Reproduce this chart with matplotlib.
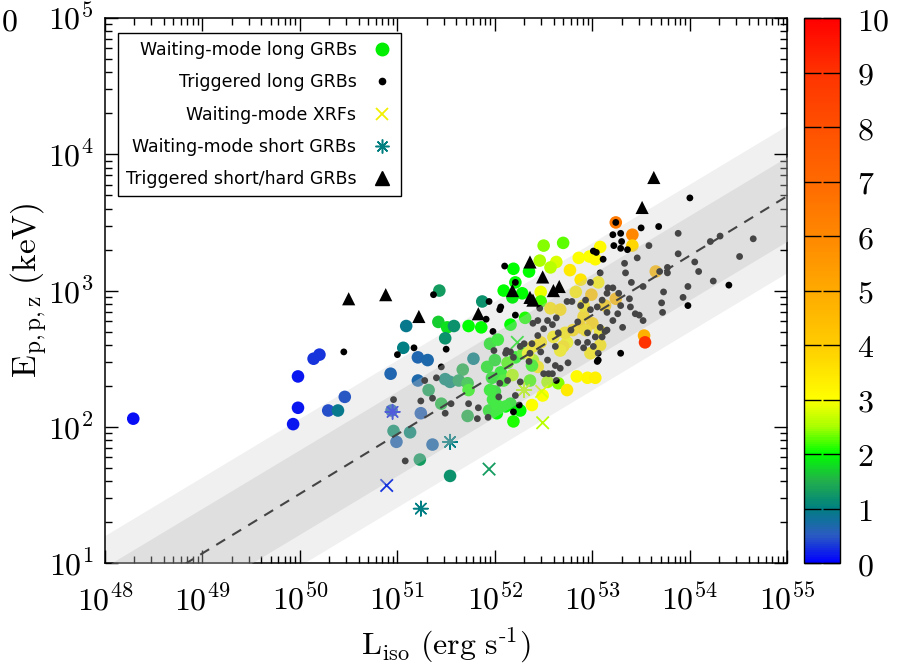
import numpy as np
import matplotlib
matplotlib.use('Agg')
import matplotlib.pyplot as plt
from matplotlib.colors import LinearSegmentedColormap, Normalize
from matplotlib.ticker import LogLocator, FuncFormatter, NullFormatter, FixedLocator
from matplotlib.lines import Line2D

plt.rcParams['mathtext.fontset'] = 'cm'

# waiting-mode long GRBs: log10 L_iso (erg/s), log10 Ep (keV), redshift
wl_logL = [48.29, 49.98, 50.14, 50.20, 49.98, 49.93, 50.29, 50.39, 50.46, 50.93,
           50.94, 50.96, 50.99, 51.43, 51.09, 51.42, 51.51, 51.58, 51.73, 51.86,
           51.87, 51.06, 51.49, 51.21, 51.31, 51.78, 51.67, 51.21, 51.49, 51.54,
           51.63, 51.72, 51.73, 51.32, 51.45, 51.24, 51.72, 51.94, 52.02, 52.02,
           52.00, 51.13, 51.36, 51.23, 51.54, 52.26, 52.19, 52.16, 52.11, 52.38,
           52.49, 52.54, 52.65, 52.84, 52.95, 53.03, 52.74, 52.50, 52.70, 52.19,
           52.35, 52.46, 52.63, 52.57, 52.09, 52.21, 52.18, 52.28, 52.47, 52.47,
           52.57, 52.86, 52.97, 52.77, 53.08, 53.03, 52.88, 53.06, 53.24, 52.99,
           53.24, 52.91, 52.88, 52.74, 52.16, 52.31, 52.39, 53.41, 53.41, 53.65,
           53.53, 53.54, 51.92, 52.00, 52.06, 51.97, 51.95, 52.09, 51.98, 52.21,
           52.29, 52.18, 52.13, 51.95, 52.03, 52.34, 52.39, 52.47, 52.44, 52.38,
           52.36, 52.70, 52.60, 52.72, 52.80, 52.91, 53.00, 53.08, 52.98, 52.67,
           52.83, 53.13, 52.93, 52.67, 53.08]
wl_logE = [2.06, 2.37, 2.50, 2.53, 2.14, 2.02, 2.12, 2.12, 2.22, 2.39,
           2.12, 1.97, 1.89, 3.00, 2.74, 2.77, 2.73, 2.74, 2.74, 2.73,
           2.92, 2.58, 2.65, 2.51, 2.49, 2.50, 2.42, 2.34, 2.35, 2.33,
           2.34, 2.32, 2.27, 2.27, 2.17, 2.10, 2.08, 2.12, 2.10, 2.16,
           2.26, 1.96, 1.87, 1.76, 1.64, 2.12, 2.04, 2.17, 2.15, 2.16,
           2.23, 2.33, 2.32, 2.37, 2.36, 2.36, 2.27, 3.33, 3.35, 3.16,
           3.14, 3.22, 3.21, 3.17, 3.00, 3.06, 2.95, 2.98, 2.99, 2.92,
           2.87, 3.24, 3.25, 3.15, 3.32, 3.23, 3.08, 3.06, 3.50, 2.97,
           2.94, 2.81, 2.73, 2.62, 2.75, 2.80, 2.49, 3.41, 3.33, 3.14,
           2.67, 2.62, 2.44, 2.49, 2.40, 2.36, 2.27, 2.34, 2.20, 2.51,
           2.54, 2.38, 2.47, 2.61, 2.64, 2.54, 2.59, 2.62, 2.44, 2.45,
           2.34, 2.59, 2.66, 2.69, 2.71, 2.89, 2.76, 2.70, 2.54, 2.86,
           2.99, 2.89, 2.71, 2.56, 2.60]
wl_z = [0.1, 0.15, 0.3, 0.3, 0.12, 0.15, 0.45, 0.9, 0.5, 0.65,
        0.7, 1.2, 0.65, 1.3, 0.9, 1.7, 1.8, 1.2, 2.0, 2.0,
        1.2, 1.0, 1.2, 0.65, 0.7, 1.0, 1.5, 0.7, 1.1, 1.1,
        1.4, 1.7, 2.1, 1.4, 1.6, 0.6, 1.5, 1.9, 2.0, 2.0,
        1.9, 1.1, 0.7, 1.3, 1.2, 2.0, 2.1, 1.9, 2.0, 3.0,
        3.0, 2.5, 2.4, 3.1, 3.2, 3.3, 3.4, 2.4, 2.3, 2.0,
        2.0, 2.5, 2.8, 2.6, 2.0, 2.0, 1.9, 2.0, 2.9, 2.2,
        3.5, 3.0, 3.0, 3.4, 3.1, 3.1, 3.5, 3.2, 6.5, 4.2,
        4.5, 3.6, 3.8, 3.0, 2.0, 2.1, 2.5, 6.0, 3.8, 4.5,
        4.8, 9.0, 1.9, 1.8, 2.0, 1.9, 2.0, 2.1, 2.0, 2.0,
        2.2, 2.5, 2.2, 1.9, 2.0, 3.0, 3.2, 3.4, 3.3, 2.1,
        2.2, 3.4, 3.2, 3.3, 3.6, 3.3, 3.8, 3.2, 3.3, 3.6,
        3.3, 4.0, 3.5, 3.1, 3.4]

# triggered long GRBs
tl_logL = [50.45, 51.00, 50.96, 51.37, 51.94, 51.91, 52.05, 52.10, 51.17, 51.50,
           51.98, 51.45, 51.28, 51.40, 51.36, 51.24, 51.49, 51.55, 51.73, 51.83,
           51.82, 51.93, 51.08, 52.12, 52.05, 52.25, 52.19, 52.55, 52.50, 52.63,
           52.21, 52.06, 52.30, 52.38, 52.44, 52.44, 52.54, 52.50, 52.59, 52.63,
           52.35, 52.47, 52.54, 52.62, 52.59, 52.67, 52.75, 52.21, 52.26, 52.04,
           52.13, 52.16, 51.99, 52.46, 52.74, 52.88, 52.93, 52.98, 53.05, 53.10,
           53.21, 53.27, 53.15, 53.21, 52.85, 52.65, 52.78, 52.95, 53.03, 53.08,
           53.15, 52.85, 52.91, 53.01, 52.62, 52.39, 52.36, 52.26, 52.19, 52.11,
           53.06, 53.29, 53.01, 53.04, 53.11, 52.98, 53.08, 53.16, 53.29, 53.21,
           53.22, 53.36, 52.79, 53.24, 52.21, 53.30, 53.50, 53.68, 53.29, 53.58,
           53.88, 53.46, 53.88, 53.33, 53.34, 53.69, 53.77, 53.77, 54.05, 54.09,
           54.24, 54.40, 54.51, 54.65, 54.31, 54.21, 53.40, 53.52, 53.73, 53.98,
           53.93, 53.98, 53.71, 53.72, 53.15, 54.00, 53.44, 53.48, 53.52, 53.39,
           53.38, 53.29, 53.31, 53.26, 53.06, 53.05, 53.13, 53.10, 52.95]
tl_logE = [2.55, 2.53, 2.20, 2.97, 2.92, 2.79, 2.86, 3.18, 2.58, 2.57,
           2.70, 2.44, 2.34, 2.36, 2.21, 2.19, 2.10, 2.17, 2.17, 2.14,
           2.06, 2.07, 1.75, 2.56, 2.32, 2.16, 2.11, 2.39, 2.39, 2.34,
           2.82, 2.88, 2.61, 2.61, 2.67, 2.78, 2.78, 2.72, 2.75, 2.80,
           2.48, 2.55, 2.49, 2.45, 2.39, 2.43, 2.47, 2.23, 2.33, 2.22,
           2.34, 2.55, 2.56, 2.87, 2.92, 2.89, 2.93, 2.86, 2.88, 2.93,
           3.02, 2.98, 2.84, 2.78, 2.77, 2.69, 2.71, 2.69, 2.66, 2.73,
           2.71, 2.62, 2.58, 2.59, 2.59, 2.76, 2.54, 2.59, 2.51, 2.54,
           2.49, 2.54, 3.29, 3.28, 3.23, 3.06, 3.13, 3.02, 3.42, 3.41,
           3.33, 3.30, 2.92, 3.50, 3.06, 3.36, 3.46, 3.47, 3.31, 3.33,
           3.42, 3.24, 3.27, 3.20, 3.13, 3.14, 3.17, 3.13, 3.21, 3.14,
           3.07, 3.04, 3.25, 3.38, 3.40, 3.36, 3.06, 3.03, 2.99, 3.03,
           2.95, 2.89, 2.91, 2.84, 2.98, 3.68, 2.83, 2.82, 2.78, 2.88,
           2.94, 2.89, 2.73, 2.83, 2.54, 2.48, 2.70, 2.66, 2.62]

# waiting-mode XRFs
xrf_logL = [50.89, 51.94, 52.49, 52.48, 52.23]
xrf_logE = [1.57, 1.69, 2.03, 2.26, 2.62]
xrf_z = [0.3, 1.3, 2.6, 2.8, 1.9]

# waiting-mode short GRBs
ws_logL = [50.95, 51.54, 52.30, 51.24]
ws_logE = [2.11, 1.89, 2.27, 1.40]
ws_z = [0.2, 1.0, 2.6, 1.0]

# triggered short/hard GRBs
ts_logL = [50.50, 50.88, 51.22, 51.83, 52.36, 52.49, 52.18, 52.36, 52.39, 52.60,
           52.66, 53.63, 53.51]
ts_logE = [2.94, 2.97, 2.81, 2.83, 3.21, 3.10, 3.00, 2.95, 2.93, 3.00,
           3.03, 3.83, 3.61]

# best fit relation and scatter bands
fit_norm, fit_slope = 2.383, 0.437
band_slope = 0.43
sig1, sig2 = 0.31, 0.54

cmap = LinearSegmentedColormap.from_list('zmap', [
    (0.0, '#0000ff'), (0.05, '#2a5cc0'), (0.1, '#008080'), (0.15, '#22b04a'),
    (0.2, '#00ff00'), (0.25, '#aaff00'), (0.3, '#ffff00'), (0.4, '#ffcc00'),
    (0.5, '#ffaa00'), (0.6, '#ff8800'), (0.7, '#ff6a00'), (0.8, '#ff5000'),
    (0.9, '#ff3300'), (1.0, '#ff0000')])
norm = Normalize(0, 10)

fig = plt.figure(figsize=(9.05, 6.68), dpi=100)
ax = fig.add_axes([0.116, 0.157, 0.754, 0.816])
cax = fig.add_axes([0.888, 0.157, 0.040, 0.816])

L = np.linspace(47.5, 55.5, 200)
band_c = fit_norm + band_slope * (L - 52)
ax.fill_between(10**L, 10**(band_c - sig2), 10**(band_c + sig2),
                color='#f0f0f0', lw=0, zorder=0)

p = lambda a: 10**np.array(a)
ax.scatter(p(wl_logL), p(wl_logE), c=wl_z, cmap=cmap, norm=norm, s=82,
           edgecolors='none', zorder=2)
ax.scatter(p(xrf_logL), p(xrf_logE), c=xrf_z, cmap=cmap, norm=norm, s=80,
           marker='x', linewidths=1.3, zorder=2)
ax.scatter(p(ws_logL), p(ws_logE), c=ws_z, cmap=cmap, norm=norm, s=110,
           marker=(8, 2, 0), linewidths=1.1, zorder=2)
ax.scatter(p(tl_logL), p(tl_logE), color='black', s=24, edgecolors='none',
           zorder=3)

ax.fill_between(10**L, 10**(band_c - sig1), 10**(band_c + sig1),
                color='0.76', alpha=0.36, lw=0, zorder=4)
ax.plot(10**L, 10**(fit_norm + fit_slope * (L - 52)), color='#444444',
        lw=1.5, ls=(0, (5, 4)), zorder=5)

ax.scatter(p(ts_logL), p(ts_logE), color='black', marker='^', s=90,
           edgecolors='none', zorder=6)

ax.set_xscale('log')
ax.set_yscale('log')
ax.set_xlim(1e48, 1e55)
ax.set_ylim(10, 1e5)

fmt = FuncFormatter(lambda v, pos: r'$10^{%d}$' % round(np.log10(v)))
ax.xaxis.set_major_locator(FixedLocator(10.0**np.arange(48, 56)))
ax.yaxis.set_major_locator(FixedLocator(10.0**np.arange(1, 6)))
for axis in (ax.xaxis, ax.yaxis):
    axis.set_minor_locator(LogLocator(base=10, subs=range(2, 10), numticks=20))
    axis.set_major_formatter(fmt)
    axis.set_minor_formatter(NullFormatter())
ax.tick_params(which='both', direction='in', top=True, right=True, width=1,
               labelsize=23)
ax.tick_params(axis='x', which='major', pad=16)
ax.tick_params(axis='y', which='major', pad=8)
ax.tick_params(which='major', length=9.5)
ax.tick_params(which='minor', length=5)
for sp in ax.spines.values():
    sp.set_linewidth(1.1)

ax.set_xlabel(r'$\mathrm{L_{iso}\ (erg\ s^{\text{-}1})}$', fontsize=23, va='center')
ax.xaxis.set_label_coords(0.5, -0.150)
ax.set_ylabel(r'$\mathrm{E_{p,p,z}\ (keV)}$', fontsize=24, va='center')
ax.yaxis.set_label_coords(-0.112, 0.5)

handles = [
    Line2D([], [], ls='none', marker='o', color='#00ee00', markersize=9),
    Line2D([], [], ls='none', marker='o', color='black', markersize=4.5),
    Line2D([], [], ls='none', marker='x', color='#f2f000', markersize=9, mew=1.3),
    Line2D([], [], ls='none', marker=(8, 2, 0), color='#007f80', markersize=10, mew=1.1),
    Line2D([], [], ls='none', marker='^', color='black', markersize=9.5),
]
labels = ['Waiting-mode long GRBs', 'Triggered long GRBs', 'Waiting-mode XRFs',
          'Waiting-mode short GRBs', 'Triggered short/hard GRBs']
leg = ax.legend(handles, labels, loc='upper left', bbox_to_anchor=(0.019, 0.972),
                borderaxespad=0, markerfirst=False, fontsize=12.5, fancybox=False,
                edgecolor='black', framealpha=1, labelspacing=0.82,
                handletextpad=0.8, handlelength=1.3, borderpad=0.45)
leg.get_frame().set_linewidth(1.0)
leg.set_zorder(10)

sm = plt.cm.ScalarMappable(norm=norm, cmap=cmap)
cb = fig.colorbar(sm, cax=cax, ticks=range(11))
cb.ax.set_yticklabels([r'$%d$' % i for i in range(11)])
cb.ax.tick_params(direction='in', length=12, width=1, left=True, right=True,
                  labelsize=23, pad=12)
cb.outline.set_linewidth(1.0)

fig.text(0.001, 0.955, r'$0$', fontsize=23)

fig.savefig('out.png', dpi=100)
